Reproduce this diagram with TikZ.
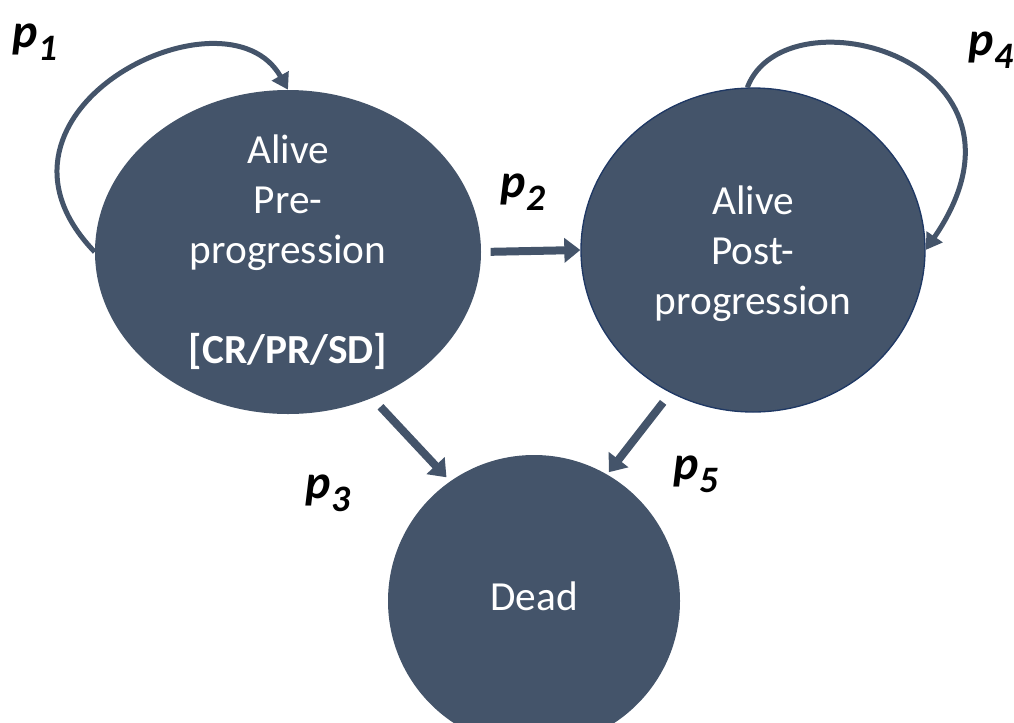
\documentclass[tikz,border=0pt]{standalone}
\usepackage{fontspec}
\setmainfont{Carlito}
\usepackage{xcolor}
\usetikzlibrary{arrows.meta, shapes.geometric}

\definecolor{stateblue}{HTML}{44546A}
\definecolor{edgenavy}{HTML}{1F3864}

\newcommand{\plab}[1]{\fontsize{36}{36}\selectfont\bfseries\itshape p\kern0.03em\raisebox{-10pt}{\fontsize{28}{28}\selectfont #1}}

\begin{document}
\begin{tikzpicture}[
		x=0.75pt, y=-0.75pt,
		state/.style={ellipse, fill=stateblue, text=white, align=center, inner sep=0pt,
			font=\fontsize{31}{37.5}\selectfont},
		trans/.style={draw=stateblue, line width=6pt, -{Triangle[length=12pt, width=18pt]}},
		selfloop/.style={draw=stateblue, line width=3.75pt, -{Triangle[length=12pt, width=14pt]}},
		lab/.style={inner sep=0pt, text=black}
		]
		
		\clip (0,0) rectangle (1014,722);
		
		% States
		\node[state, inner ysep=-12pt, minimum width=289.5pt, minimum height=243pt] (pre) at (288,252)
		{Alive\\Pre-\\progression\\[37.5pt]\textbf{[CR/PR/SD]}};
		\node[state, draw=edgenavy, line width=1pt, text depth=-6pt, minimum width=258pt, minimum height=243pt] (post) at (753,250)
		{Alive\\Post-\\progression};
		\node[state, circle, text depth=8pt, minimum size=219pt] (dead) at (534,601) {Dead};
		
		% Self transitions
		\draw[selfloop] (pre.180) .. controls +(-135,-140) and +(-62,-110) .. (pre.90);
		\draw[selfloop] (post.92) .. controls +(38,-100) and +(130,-190) .. (post.0);
		
		% Transitions between states
		\draw[trans, shorten <=7pt] (pre.east) -- (post.west);
		\draw[trans, shorten <=9pt, shorten >=4pt] (pre.-60) -- (dead.125);
		\draw[trans, shorten <=9pt, shorten >=2pt] (post.-120) -- (dead.60);
		
		% Probabilities
		\node[lab] (p1) at (35,42) {\plab{1}};
		\node[lab] (p2) at (523,192) {\plab{2}};
		\node[lab] (p3) at (328,493) {\plab{3}};
		\node[lab] (p4) at (991,50) {\plab{4}};
		\node[lab] (p5) at (696,474) {\plab{5}};
		
	\end{tikzpicture}
\end{document}
